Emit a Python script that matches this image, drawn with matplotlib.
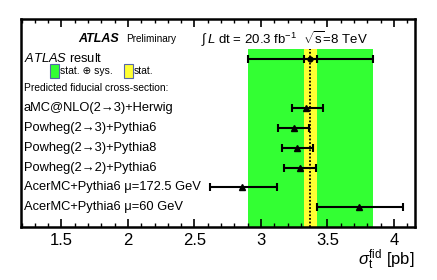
import matplotlib
matplotlib.use("Agg")
import matplotlib.pyplot as plt
from matplotlib.ticker import MultipleLocator
from matplotlib.patches import Rectangle

plt.rcParams['font.family'] = ['Liberation Sans', 'DejaVu Sans']
plt.rcParams['mathtext.fontset'] = 'custom'
plt.rcParams['mathtext.rm'] = 'Liberation Sans'
plt.rcParams['mathtext.it'] = 'Liberation Sans:italic'

# ATLAS measurement
atlas_val = 3.37
atlas_stat = 0.05
atlas_tot = 0.47

# Predictions
pred_labels = ["aMC@NLO(2\u21923)+Herwig",
               "Powheg(2\u21923)+Pythia6",
               "Powheg(2\u21923)+Pythia8",
               "Powheg(2\u21922)+Pythia6",
               "AcerMC+Pythia6 \u03bc=172.5 GeV",
               "AcerMC+Pythia6 \u03bc=60 GeV"]
pred_val = [3.34, 3.25, 3.27, 3.29, 2.86, 3.74]
pred_lo = [3.23, 3.13, 3.16, 3.17, 2.62, 3.42]
pred_hi = [3.47, 3.36, 3.39, 3.41, 3.12, 4.07]

fig = plt.figure(figsize=(4.37, 2.80), dpi=100)
ax = fig.add_axes([21/437, 1-227/280, (415-21)/437, (227-19)/280])
ax.set_xlim(1.196, 4.158)
ax.set_ylim(0, 10.51)

green = '#33ff33'
yellow = '#ffff33'
ax.axvspan(atlas_val - atlas_tot, atlas_val + atlas_tot, ymin=0.0, ymax=9.0/10.51,
           color=green, lw=0, zorder=1)
ax.axvspan(atlas_val - atlas_stat, atlas_val + atlas_stat, ymin=0.0, ymax=9.0/10.51,
           color=yellow, lw=0, zorder=2)
ax.axvline(atlas_val, ymin=0.0, ymax=9.0/10.51, color='black', ls=(0, (1.0, 1.0)), lw=1.3, zorder=3)

# ATLAS result point
y_atlas = 8.5
ax.errorbar([atlas_val], [y_atlas], xerr=[[atlas_tot], [atlas_tot]], fmt='o', color='black',
            ms=3.5, capsize=3, elinewidth=1.5, capthick=1.5, zorder=5)
ax.errorbar([atlas_val], [y_atlas], xerr=[[atlas_stat], [atlas_stat]], fmt='none', color='black',
            capsize=3, elinewidth=1.5, capthick=1.5, zorder=5)

ys = [6, 5, 4, 3, 2, 1]
for lab, v, lo, hi, y in zip(pred_labels, pred_val, pred_lo, pred_hi, ys):
    ax.errorbar([v], [y], xerr=[[v - lo], [hi - v]], fmt='^', color='black', ms=4,
                capsize=3, elinewidth=1.5, capthick=1.5, zorder=5)
    ax.text(1.215, y, lab, fontsize=9.3, va='center', ha='left', zorder=6)

ax.text(1.215, y_atlas, r"$\it{ATLAS}$ result", fontsize=9.3, va='center', ha='left')
ax.text(1.215, 7.0, "Predicted fiducial cross-section:", fontsize=7.4, va='center', ha='left')

# legend boxes
ax.add_patch(Rectangle((1.415, 7.53), 0.068, 0.71, facecolor=green, edgecolor='#5566aa', lw=0.8, zorder=6))
ax.text(1.49, 7.88, "stat. \u2295 sys.", fontsize=7.5, va='center', ha='left')
ax.add_patch(Rectangle((1.97, 7.53), 0.068, 0.71, facecolor=yellow, edgecolor='#5566aa', lw=0.8, zorder=6))
ax.text(2.045, 7.88, "stat.", fontsize=7.5, va='center', ha='left')

# header
ax.text(1.63, 9.5, "ATLAS", fontsize=9, fontweight='bold', fontstyle='italic', va='center', ha='left')
ax.text(1.99, 9.5, "Preliminary", fontsize=7.2, va='center', ha='left')
ax.text(2.55, 9.5, r"$\int\, L$ dt = 20.3 fb$^{-1}$  $\sqrt{\rm s}$=8 TeV", fontsize=9.5, va='center', ha='left')

ax.set_xticks([1.5, 2, 2.5, 3, 3.5, 4])
ax.set_xticklabels(["1.5", "2", "2.5", "3", "3.5", "4"])
ax.xaxis.set_minor_locator(MultipleLocator(0.1))
ax.tick_params(axis='x', which='major', direction='in', length=6, width=1.2, top=True, bottom=True,
               labelsize=12, pad=4)
ax.tick_params(axis='x', which='minor', direction='in', length=3, width=1.0, top=True, bottom=True)
ax.set_yticks([])
for s in ax.spines.values():
    s.set_linewidth(1.8)

fig.text(415/437, 1-260/280, r"$\sigma_{\rm t}^{\rm fid}$ [pb]", fontsize=12, ha='right', va='center')

fig.savefig("out.png", dpi=100)
